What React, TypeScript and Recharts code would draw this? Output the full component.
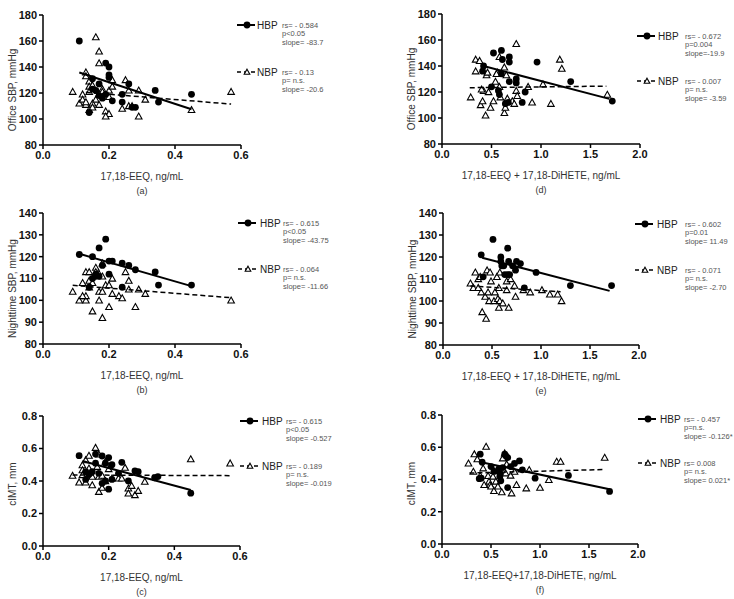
import { ScatterChart, Scatter, XAxis, YAxis } from 'recharts';

type Pt = { x: number; y: number };
const pts = (rows: number[][]): Pt[] => rows.map(([x, y]) => ({ x, y }));

const FONT = '"Liberation Sans", Arial, sans-serif';

// tick labels
const eeqTicks = [0, 0.2, 0.4, 0.6];
const sumTicks = [0, 0.5, 1, 1.5, 2];
const officeTicks = [80, 100, 120, 140, 160, 180];
const nightTicks = [80, 90, 100, 110, 120, 130, 140];
const imtTicks = [0, 0.2, 0.4, 0.6, 0.8];

// (a) office SBP vs 17,18-EEQ
const hbpA = pts([[0.11,160],[0.19,143],[0.2,140],[0.2,134],[0.2,132],[0.15,131],[0.17,127],[0.26,127],[0.15,123],[0.16,122],[0.17,118],[0.18,116],[0.19,119],[0.21,114],[0.24,119],[0.24,113],[0.27,109],[0.28,109],[0.34,122],[0.35,113],[0.45,119],[0.14,105]]);
const nbpA = pts([[0.09,121],[0.16,163],[0.17,152],[0.17,143],[0.13,136],[0.13,133],[0.14,129],[0.14,125],[0.12,119],[0.11,112],[0.12,115],[0.13,111],[0.15,112],[0.16,115],[0.17,111],[0.14,121],[0.15,126],[0.18,123],[0.17,119],[0.2,117],[0.2,122],[0.21,125],[0.21,130],[0.19,106],[0.2,104],[0.19,102],[0.24,108],[0.25,130],[0.26,122],[0.26,110],[0.27,110],[0.29,122],[0.29,102],[0.31,115],[0.45,107],[0.57,121],[0.14,107],[0.15,109],[0.13,113],[0.18,121]]);
const hbpFitA = pts([[0.11,135.8],[0.45,107.5]]);
const nbpFitA = pts([[0.13,120.5],[0.57,111.5]]);

// (b) nighttime SBP vs 17,18-EEQ
const hbpB = pts([[0.11,121],[0.15,120],[0.19,128],[0.17,124],[0.18,116],[0.2,118],[0.21,118],[0.24,117],[0.26,116],[0.28,114],[0.34,113],[0.35,107],[0.45,107],[0.2,112],[0.24,106],[0.16,112],[0.16,111],[0.15,110],[0.17,111],[0.14,106]]);
const nbpB = pts([[0.09,104],[0.11,100],[0.13,100],[0.12,108],[0.13,113],[0.14,113],[0.14,109],[0.15,108],[0.13,102],[0.14,106],[0.16,115],[0.18,117],[0.17,112],[0.18,111],[0.19,107],[0.2,107],[0.17,104],[0.17,100],[0.15,95],[0.18,92],[0.2,97],[0.21,103],[0.23,102],[0.24,101],[0.25,113],[0.26,109],[0.26,105],[0.28,97],[0.29,105],[0.31,103],[0.57,100],[0.21,110],[0.12,102],[0.16,113],[0.18,104]]);
const hbpFitB = pts([[0.11,121.3],[0.45,106.5]]);
const nbpFitB = pts([[0.09,106.9],[0.57,101.2]]);

// (c) cIMT vs 17,18-EEQ
const hbpC = pts([[0.11,0.556],[0.16,0.51],[0.16,0.566],[0.18,0.554],[0.2,0.544],[0.24,0.515],[0.19,0.51],[0.21,0.5],[0.13,0.457],[0.14,0.44],[0.15,0.457],[0.17,0.447],[0.18,0.386],[0.2,0.35],[0.19,0.4],[0.23,0.447],[0.26,0.4],[0.28,0.462],[0.29,0.457],[0.34,0.42],[0.35,0.427],[0.45,0.325],[0.13,0.41],[0.21,0.41]]);
const nbpC = pts([[0.09,0.433],[0.11,0.392],[0.12,0.498],[0.12,0.467],[0.12,0.437],[0.13,0.529],[0.13,0.392],[0.14,0.556],[0.15,0.427],[0.15,0.375],[0.16,0.605],[0.17,0.564],[0.165,0.488],[0.17,0.427],[0.17,0.334],[0.18,0.359],[0.18,0.433],[0.19,0.519],[0.19,0.4],[0.2,0.474],[0.21,0.416],[0.23,0.416],[0.24,0.416],[0.25,0.482],[0.26,0.355],[0.26,0.324],[0.27,0.371],[0.28,0.314],[0.29,0.34],[0.31,0.396],[0.45,0.535],[0.57,0.509],[0.14,0.478]]);
const hbpFitC = pts([[0.12,0.523],[0.45,0.345]]);
const nbpFitC = pts([[0.09,0.437],[0.57,0.433]]);

// (d) office SBP vs 17,18-EEQ + 17,18-DiHETE
const hbpD = pts([[0.42,140],[0.41,136],[0.52,150],[0.6,152],[0.61,145],[0.68,147],[0.68,143],[0.6,134],[0.75,130],[0.75,127],[0.68,128],[0.5,124],[0.58,118],[0.64,111],[0.67,112],[0.81,112],[0.84,120],[0.96,143],[1.3,128],[1.72,113],[0.57,121]]);
const nbpD = pts([[0.29,116],[0.34,145],[0.34,136],[0.38,144],[0.45,133],[0.46,135],[0.39,110],[0.41,113],[0.42,121],[0.44,102],[0.47,120],[0.49,108],[0.52,113],[0.54,128],[0.56,135],[0.58,147],[0.63,139],[0.65,133],[0.58,124],[0.59,116],[0.63,104],[0.64,108],[0.66,115],[0.71,113],[0.73,111],[0.75,157],[0.75,121],[0.76,117],[0.87,124],[0.91,112],[1.02,126],[1.1,111],[1.19,145],[1.21,138],[1.67,118],[0.4,122],[0.55,134]]);
const hbpFitD = pts([[0.42,140],[1.69,114.7]]);
const nbpFitD = pts([[0.28,123.3],[1.66,124.5]]);

// (e) nighttime SBP vs 17,18-EEQ + 17,18-DiHETE
const hbpE = pts([[0.39,121],[0.41,111],[0.51,128],[0.59,120],[0.59,118],[0.6,116],[0.62,116],[0.66,124],[0.67,118],[0.66,112],[0.68,112],[0.63,112],[0.71,116],[0.74,114],[0.75,118],[0.79,117],[0.83,106],[0.95,113],[1.3,107],[1.72,107]]);
const nbpE = pts([[0.28,108],[0.33,113],[0.31,106],[0.36,110],[0.38,111],[0.39,104],[0.4,95],[0.43,102],[0.44,92],[0.45,114],[0.48,113],[0.49,109],[0.46,104],[0.47,100],[0.52,100],[0.53,104],[0.55,111],[0.57,106],[0.58,113],[0.56,101],[0.58,100],[0.61,99],[0.57,97],[0.65,109],[0.69,110],[0.67,97],[0.73,107],[0.74,102],[0.82,105],[0.89,104],[1.01,105],[1.09,103],[1.17,103],[1.21,100],[0.65,105],[0.36,106]]);
const hbpFitE = pts([[0.4,119.7],[1.7,104.6]]);
const nbpFitE = pts([[0.28,106.8],[1.2,104.2]]);

// (f) cIMT vs 17,18-EEQ + 17,18-DiHETE
const hbpF = pts([[0.39,0.557],[0.4,0.408],[0.41,0.507],[0.5,0.48],[0.53,0.45],[0.58,0.466],[0.59,0.439],[0.6,0.392],[0.62,0.474],[0.64,0.557],[0.65,0.548],[0.67,0.536],[0.67,0.35],[0.7,0.48],[0.74,0.5],[0.79,0.515],[0.82,0.46],[0.95,0.408],[1.29,0.425],[1.71,0.326],[0.59,0.418],[0.38,0.405]]);
const nbpF = pts([[0.27,0.5],[0.32,0.449],[0.33,0.557],[0.36,0.526],[0.39,0.423],[0.42,0.47],[0.43,0.367],[0.45,0.604],[0.47,0.423],[0.48,0.388],[0.49,0.367],[0.5,0.357],[0.52,0.419],[0.53,0.33],[0.55,0.388],[0.57,0.357],[0.53,0.454],[0.61,0.322],[0.62,0.532],[0.64,0.563],[0.65,0.439],[0.66,0.495],[0.7,0.425],[0.71,0.315],[0.74,0.449],[0.76,0.367],[0.86,0.346],[0.89,0.46],[1.0,0.35],[1.09,0.398],[1.17,0.511],[1.21,0.511],[1.66,0.536]]);
const hbpFitF = pts([[0.4,0.507],[1.71,0.34]]);
const nbpFitF = pts([[0.28,0.44],[1.66,0.462]]);

// legend statistics
const statsA = [['rs= - 0.584', 'p<0.05', 'slope= -83.7'], ['rs= - 0.13', 'p= n.s.', 'slope= -20.6']];
const statsB = [['rs= - 0.615', 'p<0.05', 'slope= -43.75'], ['rs= - 0.064', 'p= n.s.', 'slope= -11.66']];
const statsC = [['rs= - 0.615', 'p<0.05', 'slope= -0.527'], ['rs= - 0.189', 'p= n.s.', 'slope= -0.019']];
const statsD = [['rs= - 0.672', 'p=0.004', 'slope=-19.9'], ['rs= - 0.007', 'p= n.s.', 'slope= -3.59']];
const statsE = [['rs= - 0.602', 'p=0.01', 'slope= 11.49'], ['rs= - 0.071', 'p= n.s.', 'slope= -2.70']];
const statsF = [['rs= - 0.457', 'p=n.s.', 'slope= -0.126*'], ['rs= 0.008', 'p= n.s.', 'slope= 0.021*']];

const Dot = (props: any) => <circle cx={props.cx} cy={props.cy} r={3.4} fill="#000" />;
const Tri = (props: any) => {
  const { cx, cy } = props;
  const s = props.s ?? 3.3;
  return (
    <polygon
      points={`${cx},${cy - s} ${cx + s},${cy + s * 0.8} ${cx - s},${cy + s * 0.8}`}
      fill="#fff"
      stroke="#000"
      strokeWidth={1.1}
    />
  );
};
const NoMark = () => <g />;

const fmt1 = (v: number) => v.toFixed(1);
const fmt0 = (v: number) => String(v);

const xTitle = (title: string, letter: string) => (props: any) => {
  const { x, y, width } = props.viewBox;
  const cx = x + width / 2;
  return (
    <g fontFamily={FONT} fill="#333" textAnchor="middle">
      <text x={cx} y={y + 31} fontSize={10} dominantBaseline="central">{title}</text>
      <text x={cx} y={y + 46} fontSize={9} dominantBaseline="central">{letter}</text>
    </g>
  );
};

const yTitle = (title: string, shift: number) => (props: any) => {
  const { x, y, height } = props.viewBox;
  const tx = x + 12;
  const ty = y + height / 2 + shift;
  return (
    <text x={tx} y={ty} transform={`rotate(-90 ${tx} ${ty})`} textAnchor="middle" dominantBaseline="central"
      fontFamily={FONT} fontSize={10} fill="#333">{title}</text>
  );
};

interface PanelProps {
  left: number; right: number; top: number; bottom: number;
  xTicks: number[]; yTicks: number[]; yFmt: (v: number) => string;
  xLabel: string; letter: string; yLabel: string; yShift: number;
  hbp: Pt[]; nbp: Pt[]; hbpFit: Pt[]; nbpFit: Pt[];
}

function Panel(p: PanelProps) {
  const w = p.right - p.left;
  const h = p.bottom - p.top;
  const axisStyle = { stroke: '#000', strokeWidth: 1.5 };
  const tick = { fontSize: 11, fontWeight: 'bold', fill: '#111', fontFamily: FONT };
  return (
    <div style={{ position: 'absolute', left: p.left - 43, top: p.top - 10 }}>
      <ScatterChart width={43 + w + 8} height={10 + h + 55} margin={{ top: 10, right: 8, left: 0, bottom: 0 }}>
        <XAxis type="number" dataKey="x" domain={[p.xTicks[0], p.xTicks[p.xTicks.length - 1]]} ticks={p.xTicks}
          tickFormatter={fmt1} height={55} axisLine={axisStyle} tickLine={axisStyle} tickSize={4} tickMargin={2}
          tick={tick} interval={0} allowDataOverflow label={{ content: xTitle(p.xLabel, p.letter) }} />
        <YAxis type="number" dataKey="y" domain={[p.yTicks[0], p.yTicks[p.yTicks.length - 1]]} ticks={p.yTicks}
          tickFormatter={p.yFmt} width={43} axisLine={axisStyle} tickLine={axisStyle} tickSize={4} tickMargin={2}
          tick={tick} interval={0} allowDataOverflow label={{ content: yTitle(p.yLabel, p.yShift) }} />
        <Scatter data={p.nbp} shape={Tri} isAnimationActive={false} />
        <Scatter data={p.hbp} shape={Dot} isAnimationActive={false} />
        <Scatter data={p.nbpFit} shape={NoMark} line={{ stroke: '#000', strokeWidth: 1.5, strokeDasharray: '5 3' }}
          isAnimationActive={false} />
        <Scatter data={p.hbpFit} shape={NoMark} line={{ stroke: '#000', strokeWidth: 2 }} isAnimationActive={false} />
      </ScatterChart>
    </div>
  );
}

interface KeyProps { sx: number; tx: number; px: number; y1: number; y2: number; stats: string[][] }

function Key({ sx, tx, px, y1, y2, stats }: KeyProps) {
  const rows = [
    { y: y1, name: 'HBP', dashed: false, lines: stats[0] },
    { y: y2, name: 'NBP', dashed: true, lines: stats[1] },
  ];
  return (
    <g fontFamily={FONT}>
      {rows.map((r) => (
        <g key={r.name}>
          <line x1={sx} x2={sx + 18} y1={r.y} y2={r.y} stroke="#000" strokeWidth={r.dashed ? 1.5 : 2}
            strokeDasharray={r.dashed ? '4 3' : undefined} />
          {r.dashed
            ? <Tri cx={sx + 10} cy={r.y} s={2.8} />
            : <Dot cx={sx + 10} cy={r.y} />}
          <text x={tx} y={r.y} fontSize={10} fill="#222" dominantBaseline="central">{r.name}</text>
          {r.lines.map((s, i) => (
            <text key={i} x={px} y={r.y + i * 8.7} fontSize={7.5} fill="#555" dominantBaseline="central">{s}</text>
          ))}
        </g>
      ))}
    </g>
  );
}

export default function App() {
  const eeq = '17,18-EEQ, ng/mL';
  const sum = '17,18-EEQ + 17,18-DiHETE, ng/mL';
  return (
    <div style={{ position: 'absolute', left: 0, top: 0, width: 734, height: 599, background: '#fff' }}>
      <Panel left={43} right={241} top={15} bottom={145} xTicks={eeqTicks} yTicks={officeTicks} yFmt={fmt0}
        xLabel={eeq} letter="(a)" yLabel="Office SBP, mmHg" yShift={10} hbp={hbpA} nbp={nbpA} hbpFit={hbpFitA} nbpFit={nbpFitA} />
      <Panel left={43} right={241} top={213} bottom={344} xTicks={eeqTicks} yTicks={nightTicks} yFmt={fmt0}
        xLabel={eeq} letter="(b)" yLabel="Nighttime SBP, mmHg" yShift={10} hbp={hbpB} nbp={nbpB} hbpFit={hbpFitB} nbpFit={nbpFitB} />
      <Panel left={43} right={240} top={416} bottom={546} xTicks={eeqTicks} yTicks={imtTicks} yFmt={fmt1}
        xLabel={eeq} letter="(c)" yLabel="cIMT, mm" yShift={3} hbp={hbpC} nbp={nbpC} hbpFit={hbpFitC} nbpFit={nbpFitC} />
      <Panel left={442} right={640} top={14} bottom={144} xTicks={sumTicks} yTicks={officeTicks} yFmt={fmt0}
        xLabel={sum} letter="(d)" yLabel="Office SBP, mmHg" yShift={10} hbp={hbpD} nbp={nbpD} hbpFit={hbpFitD} nbpFit={nbpFitD} />
      <Panel left={443} right={639} top={213} bottom={345} xTicks={sumTicks} yTicks={nightTicks} yFmt={fmt0}
        xLabel={sum} letter="(e)" yLabel="Nighttime SBP, mmHg" yShift={10} hbp={hbpE} nbp={nbpE} hbpFit={hbpFitE} nbpFit={nbpFitE} />
      <Panel left={442} right={638} top={415} bottom={544} xTicks={sumTicks} yTicks={imtTicks} yFmt={fmt1}
        xLabel="17,18-EEQ+17,18-DiHETE, ng/mL" letter="(f)" yLabel="cIMT, mm" yShift={4} hbp={hbpF} nbp={nbpF} hbpFit={hbpFitF} nbpFit={nbpFitF} />
      <svg width={734} height={599} style={{ position: 'absolute', left: 0, top: 0, pointerEvents: 'none' }}>
        <Key sx={237} tx={257} px={282} y1={25} y2={72} stats={statsA} />
        <Key sx={238} tx={260} px={283} y1={223} y2={269} stats={statsB} />
        <Key sx={240} tx={262} px={286} y1={421} y2={466} stats={statsC} />
        <Key sx={637} tx={658} px={685} y1={36} y2={81} stats={statsD} />
        <Key sx={635} tx={657} px={685} y1={224} y2={270} stats={statsE} />
        <Key sx={638} tx={660} px={684} y1={419} y2={463} stats={statsF} />
      </svg>
    </div>
  );
}
